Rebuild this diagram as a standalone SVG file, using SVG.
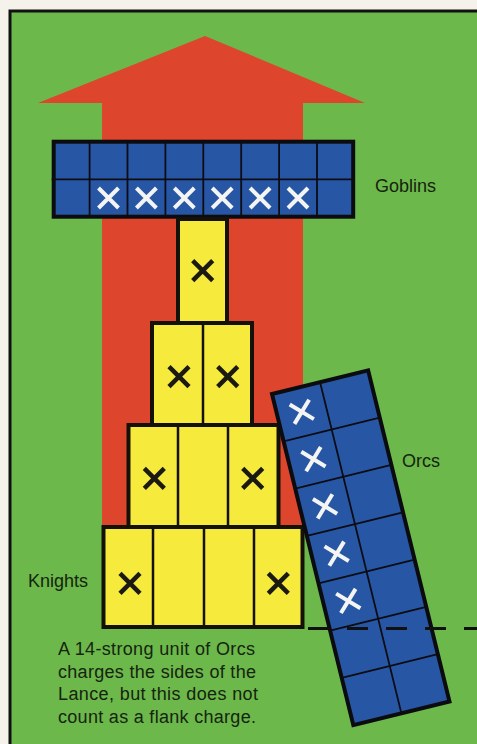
<svg xmlns="http://www.w3.org/2000/svg" width="477" height="744" viewBox="0 0 477 744">
<defs>
<style>
.lbl{font-family:"Liberation Sans",Arial,sans-serif;font-size:18px;fill:#16240f}
.blue{fill:#2757a4;stroke:#0c0c10;stroke-width:4}
.yel{fill:#f6ea3c;stroke:#141208;stroke-width:4}
.gridb{stroke:#0c0c14;stroke-width:1.8;fill:none}
.gridy{stroke:#141208;stroke-width:2.5;fill:none}
.xb{stroke:#1a1a12;stroke-width:4.5;fill:none}
.xw{stroke:#f4f4f2;stroke-width:4;fill:none}
</style>
<path id="xm" d="M-10,-10 L10,10 M10,-10 L-10,10"/>
</defs>
<rect x="0" y="0" width="477" height="744" fill="#f4f2ea"/>
<g id="frame">
<rect x="10" y="11" width="470" height="740" fill="#6cb84b"/>
<path d="M10,748 V11 H480" fill="none" stroke="#111" stroke-width="3"/>
</g>
<g id="arrow">
<polygon points="38,103 205,36 365,103 303,103 303,530 102,530 102,103" fill="#de452d"/>
</g>
<g id="goblins">
<rect class="blue" x="53.7" y="141.7" width="299.5" height="75"/>
<path class="gridb" d="M51.7,179.3 H355 M89.6,142 V217 M127.5,142 V217 M165.4,142 V217 M203.3,142 V217 M241.2,142 V217 M279.1,142 V217 M317,142 V217"/>
<g class="xw">
<use href="#xm" x="108.5" y="198"/>
<use href="#xm" x="146.4" y="198"/>
<use href="#xm" x="184.3" y="198"/>
<use href="#xm" x="222.2" y="198"/>
<use href="#xm" x="260.1" y="198"/>
<use href="#xm" x="298" y="198"/>
</g>
</g>
<g id="knights">
<rect class="yel" x="178" y="219" width="49" height="104"/>
<rect class="yel" x="152" y="323" width="100" height="102"/>
<rect class="yel" x="128.5" y="425" width="150" height="102"/>
<rect class="yel" x="103.5" y="527" width="199" height="100"/>
<path class="gridy" d="M203,323 V425 M178,425 V527 M228,425 V527 M153,527 V627 M204,527 V627 M254,527 V627"/>
<g class="xb">
<use href="#xm" x="202.7" y="270.7"/>
<use href="#xm" x="179" y="376.7"/>
<use href="#xm" x="227.7" y="376.7"/>
<use href="#xm" x="154.3" y="478.3"/>
<use href="#xm" x="252.7" y="478.3"/>
<use href="#xm" x="130" y="583.3"/>
<use href="#xm" x="278.3" y="583.3"/>
</g>
</g>
<g id="orcs" transform="translate(272,394) rotate(-13.8)">
<rect class="blue" x="0" y="0" width="99" height="341"/>
<path class="gridb" d="M49.5,0 V341 M0,48.7 H99 M0,97.4 H99 M0,146.1 H99 M0,194.9 H99 M0,243.6 H99 M0,292.3 H99"/>
<g class="xw">
<use href="#xm" x="24.7" y="24.4"/>
<use href="#xm" x="24.7" y="73.1"/>
<use href="#xm" x="24.7" y="121.8"/>
<use href="#xm" x="24.7" y="170.5"/>
<use href="#xm" x="24.7" y="219.2"/>
</g>
</g>
<g id="connectors">
<line x1="308" y1="628.5" x2="477" y2="628.5" stroke="#111" stroke-width="3" stroke-dasharray="21 18"/>
</g>
<g id="labels">
<text class="lbl" x="375" y="191.5">Goblins</text>
<text class="lbl" x="402" y="466.5">Orcs</text>
<text class="lbl" x="28" y="586.5">Knights</text>
<text class="lbl" x="58" y="655" textLength="197" lengthAdjust="spacing">A 14-strong unit of Orcs</text>
<text class="lbl" x="58" y="677.5" textLength="198" lengthAdjust="spacing">charges the sides of the</text>
<text class="lbl" x="58" y="700" textLength="200" lengthAdjust="spacing">Lance, but this does not</text>
<text class="lbl" x="58" y="722.5" textLength="198" lengthAdjust="spacing">count as a flank charge.</text>
</g>
</svg>
